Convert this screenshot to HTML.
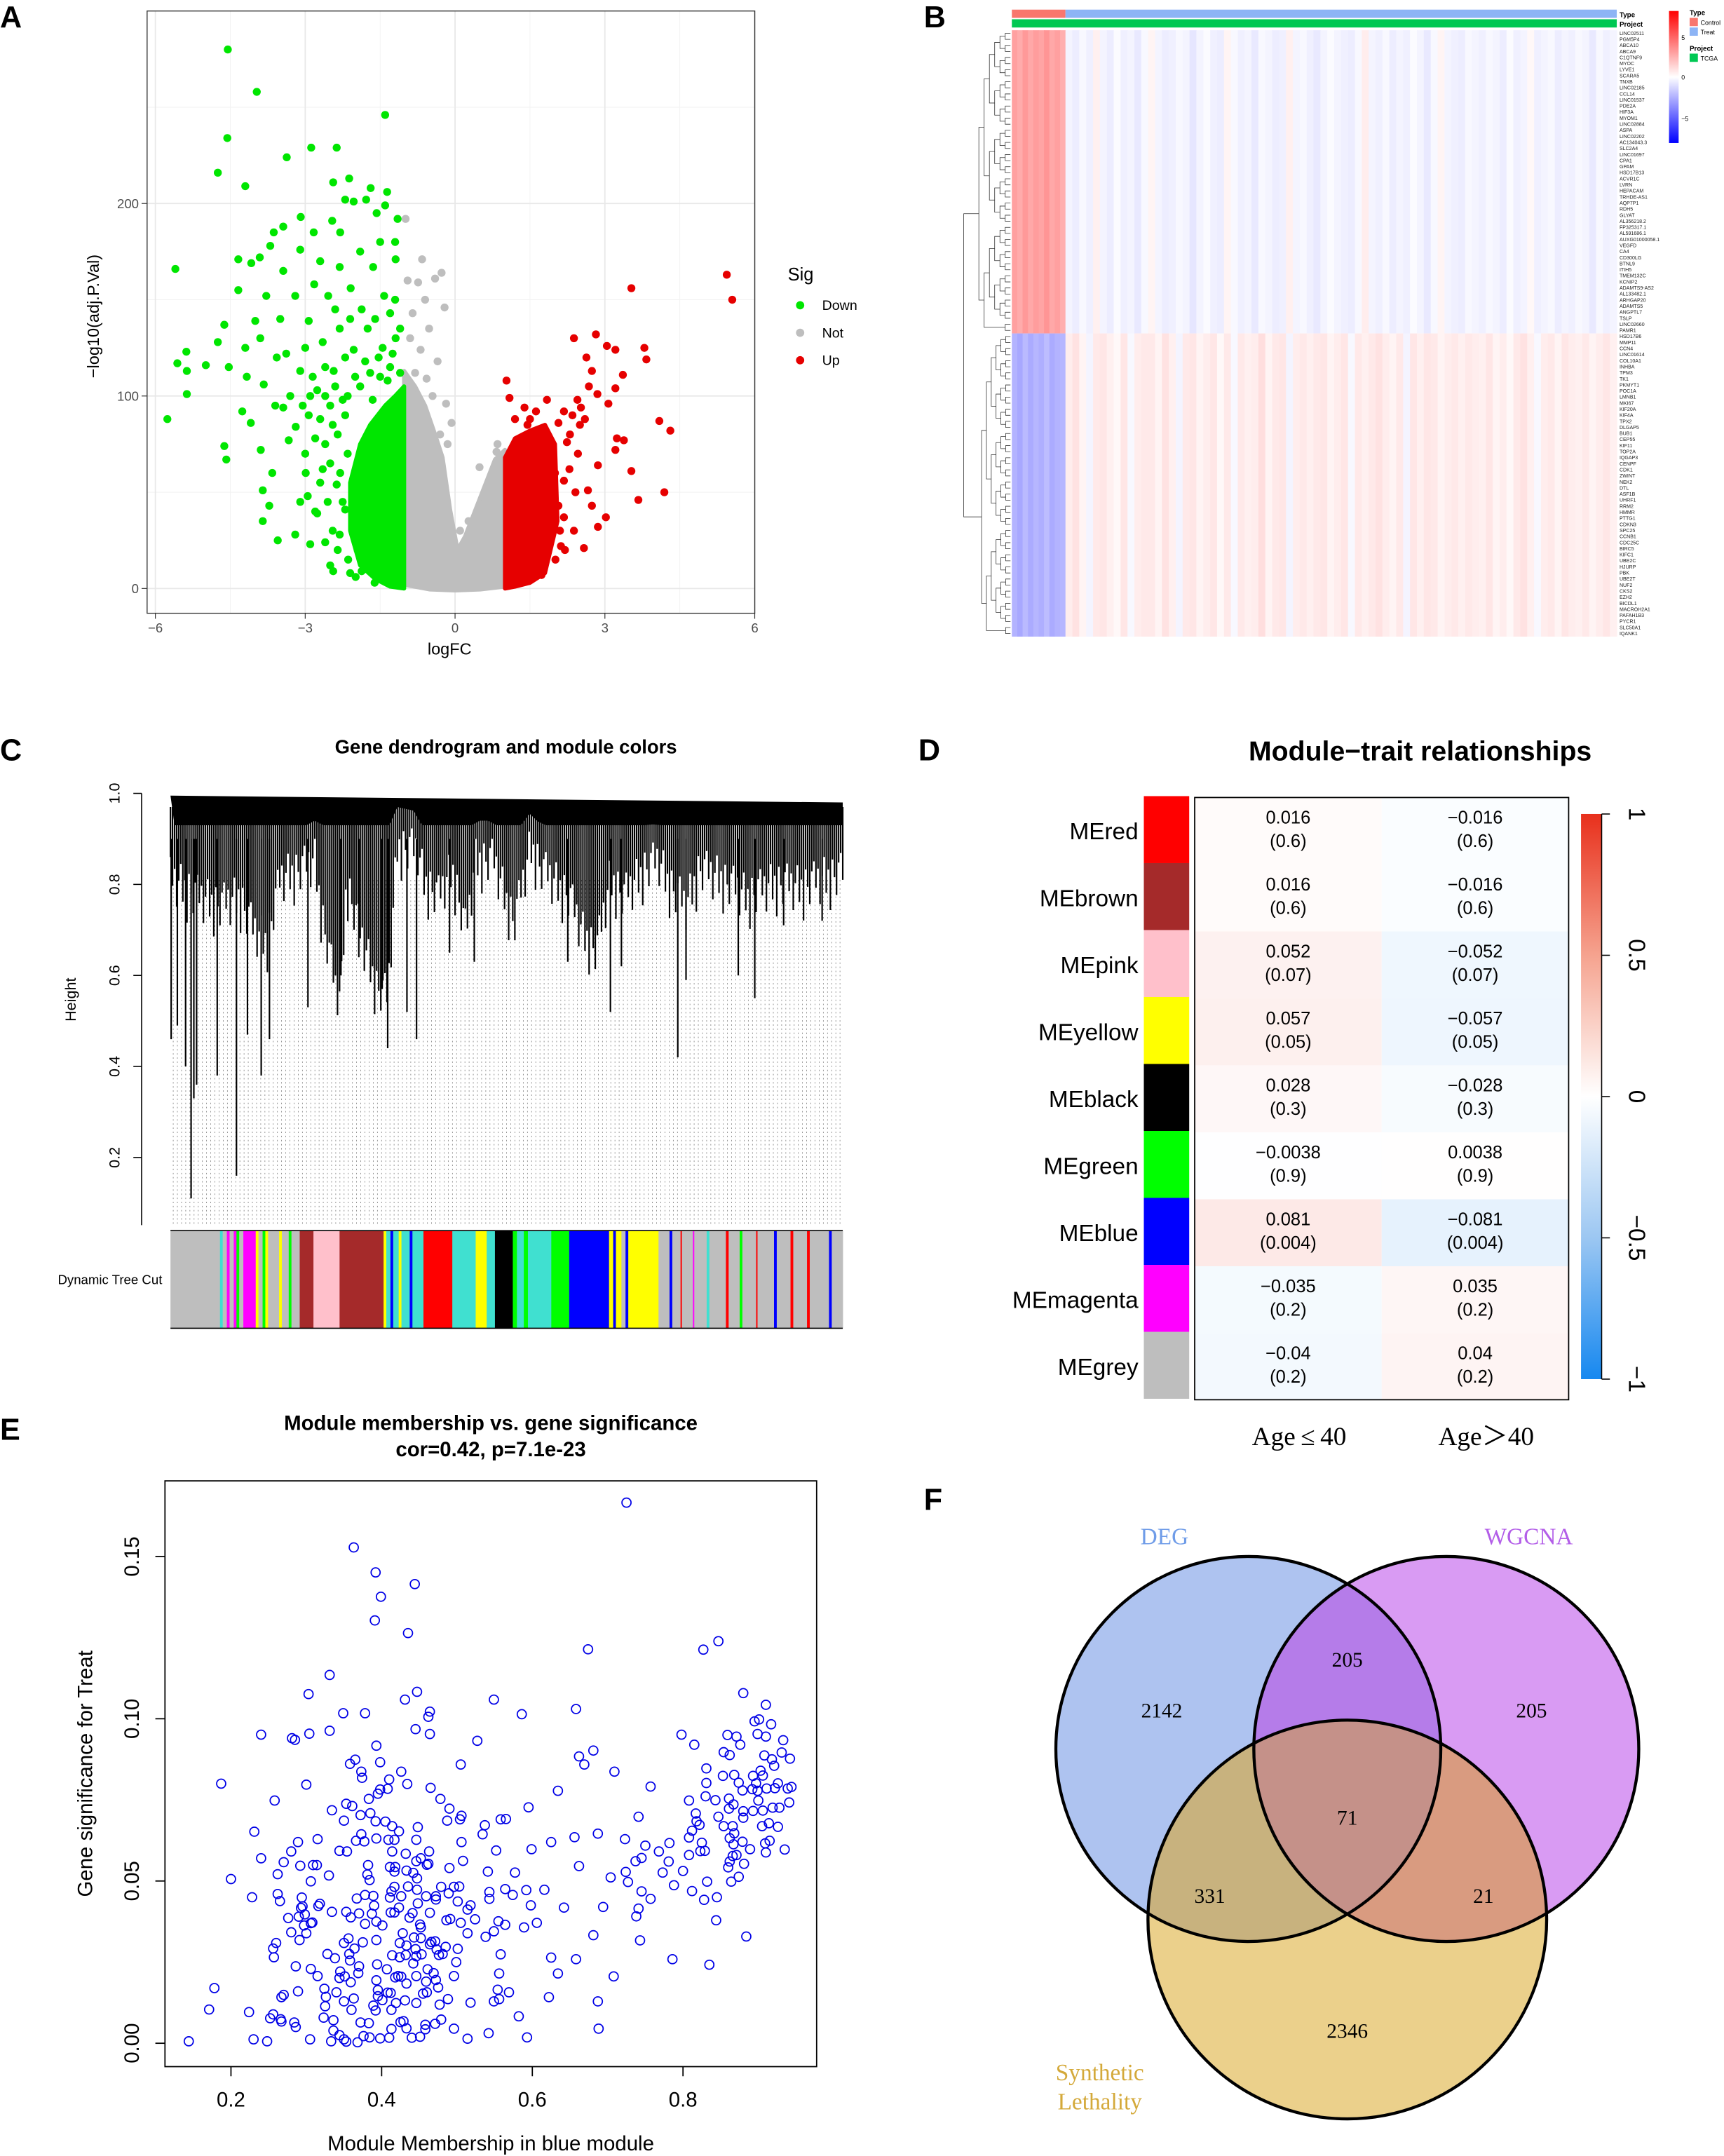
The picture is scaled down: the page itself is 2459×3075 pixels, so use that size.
<!DOCTYPE html>
<html><head><meta charset="utf-8"><title>Figure</title>
<style>
html,body{margin:0;padding:0;background:#fff;}
svg{display:block;}
text{font-family:"Liberation Sans",Arial,sans-serif;}
.serif{font-family:"Liberation Serif","Times New Roman",serif;}
</style></head>
<body>
<svg id="fig" xmlns="http://www.w3.org/2000/svg" width="2459" height="3075" viewBox="0 0 1254 1568" preserveAspectRatio="none">
<defs>
<linearGradient id="gradB" x1="0" y1="0" x2="0" y2="1">
<stop offset="0" stop-color="#ff0000"/><stop offset="0.5" stop-color="#ffffff"/><stop offset="1" stop-color="#0000ff"/>
</linearGradient>
<linearGradient id="gradD" x1="0" y1="0" x2="0" y2="1">
<stop offset="0" stop-color="#e8301c"/><stop offset="0.25" stop-color="#f5a38f"/><stop offset="0.5" stop-color="#ffffff"/><stop offset="0.75" stop-color="#9cc7f2"/><stop offset="1" stop-color="#1688f0"/>
</linearGradient>
<clipPath id="clipA"><circle cx="908" cy="1272" r="140"/></clipPath>
<clipPath id="clipB"><circle cx="1052" cy="1272" r="140"/></clipPath>
</defs>
<rect x="0" y="0" width="1254" height="1568" fill="#fff"/>
<g id="pA"></g>
<g id="pB"></g>
<g id="pC"></g>
<g id="pD"></g>
<g id="pE"></g>
<g id="pF"></g>
</svg>
<script>
// ---------- Panel A data ----------
const downPts=[[-4.55,280],[-3.97,258],[-1.40,246],[-4.56,234],[-2.88,229],[-2.37,229],[-3.37,224],[-4.75,216],[-4.2,209],[-2.12,213],[-2.44,211],[-1.69,208],[-1.36,206],[-2.2,202],[-2.03,201],[-1.78,202],[-1.40,199],[-1.57,195],[-3.09,193],[-1.15,192],[-2.46,191],[-3.44,188],[-3.63,185],[-2.83,185],[-5.6,166],[-4.34,171],[-4.08,169],[-3.91,172],[-3.1,176],[-3.7,178],[-4.34,155],[-4.62,137],[-4.75,128],[-5.38,123],[-5.56,117],[-4.99,116],[-4.53,115],[-5.37,113],[-5.37,101],[-5.76,88],[-4.62,74],[-4.58,67],[-4.26,92],[-4.09,86],[-3.85,51],[-3.85,35],[-3.55,25],[-3.72,43],[-3.2,28],[-2.9,23],[-2.44,9],[-1.99,6],[-1.61,3],[-3.66,60],[-3.33,77],[-3.89,72],[-4.17,110],[-3.83,106],[-3.57,120],[-3.44,94],[-3.19,84],[-2.99,60],[-2.76,39],[-2.6,24],[-4.0,139],[-3.78,152],[-3.44,165],[-3.2,152],[-2.93,139],[-2.82,158],[-2.54,152],[-2.31,167],[-2.09,156],[-1.87,145],[-1.64,167],[-1.42,152],[-1.19,171],[-1.3,143],[-3.38,122],[-3.1,113],[-2.65,128],[-2.31,135],[-2.03,124],[-1.75,135],[-1.53,120],[-1.19,130],[-2.76,103],[-2.43,113],[-2.93,90],[-2.6,75],[-2.37,54],[-2.2,41],[-2.31,28],[-2.14,15],[-1.87,9],[-2.9,100],[-2.7,88],[-2.5,95],[-2.5,65],[-2.55,45],[-2.45,30],[-2.7,55],[-3.0,70],[-3.1,45],[-3.3,100],[-3.6,95],[-3.9,130],[-4.2,125],[-3.5,140],[-3.0,125],[-2.6,115],[-2.2,120],[-2.0,110],[-1.8,118],[-1.5,110],[-1.3,115],[-1.1,112],[-1.2,150],[-1.6,140],[-2.1,140],[-2.4,145],[-2.7,170],[-1.9,175],[-1.5,180],[-2.3,185],[-1.2,180],[-2.35,80],[-2.25,98],[-2.15,70],[-2.05,50],[-2.0,32],[-1.95,20],[-2.3,60],[-2.6,100],[-2.8,78],[-2.2,90],[-2.4,105],[-2.25,45],[-2.35,20],[-2.5,12],[-2.1,8],[-1.9,105],[-1.7,112],[-1.45,125],[-1.25,122],[-1.1,135],[-2.15,100],[-2.45,85],[-2.65,62],[-2.8,40],[-2.95,48],[-3.05,95],[-2.85,110],[-1.65,98],[-1.35,108]];
const downEnvX=[-2.1,-1.9,-1.7,-1.4,-1.2,-1.02,-1.02,-1.3,-1.6,-1.9,-2.1];
const downEnvY=[55,75,85,95,100,105,0,1,5,12,30];
const notPts=[[-0.99,192],[-0.66,171],[-0.27,164],[-0.74,159],[-0.4,161],[-0.21,146],[-0.85,143],[-0.52,135],[-0.69,124],[-0.35,118],[-0.57,109],[-0.18,96],[-0.07,86],[0.49,63],[0.83,71],[0.66,54],[0.27,35],[-0.9,130],[-0.8,112],[-0.45,100],[-0.3,80],[-0.6,150],[-0.95,160],[-0.15,75],[0.1,30],[0.85,75]];
const notEnvX=[-1.02,-0.8,-0.6,-0.4,-0.25,-0.1,0.05,0.2,0.5,0.8,1.0,1.0,0.5,0,-0.5,-1.02];
const notEnvY=[113,105,95,80,68,41,20,27,47,67,72,1,-0.5,-1,-0.5,2];
const upPts=[[5.44,163],[5.55,150],[3.53,156],[3.79,125],[3.83,119],[2.82,132],[2.38,130],[3.04,126],[3.21,124],[3.36,111],[1.03,108],[1.09,99],[3.21,104],[3.07,96],[4.09,87],[4.31,82],[3.24,78],[3.38,77],[3.21,72],[3.53,61],[3.67,46],[4.19,50],[3.02,37],[2.86,32],[2.58,21],[2.66,51],[2.63,120],[2.74,113],[2.68,105],[2.85,101],[2.52,94],[2.35,90],[2.18,92],[2.07,86],[1.84,98],[1.62,92],[1.39,94],[2.24,76],[2.46,70],[2.29,62],[2.18,56],[2.41,50],[2.07,43],[2.18,37],[2.38,30],[2.12,22],[2.01,15],[2.74,43],[2.86,64],[1.73,7],[1.95,70],[2.0,60],[2.3,80],[2.5,85],[1.5,88],[2.1,30],[2.2,20],[1.2,88],[1.45,85],[2.6,88],[2.45,98]];
const upEnvX=[1.0,1.2,1.5,1.8,2.0,2.05,1.8,1.5,1.2,1.0];
const upEnvY=[68,78,82,85,75,35,8,3,1,0];
const volcXTicks=[-6,-3,0,3,6];
const volcYTicks=[0,100,200];

// ---------- Panel B data ----------
const geneTop=["LINC02511","PGM5P4","ABCA10","ABCA9","C1QTNF9","MYOC","LYVE1","SCARA5","TNXB","LINC02185","CCL14","LINC01537","PDE2A","HIF3A","MYOM1","LINC02884","ASPA","LINC02202","AC134043.3","SLC2A4","LINC01697","CPA1","GPAM","HSD17B13","ACVR1C","LVRN","HEPACAM","TRHDE-AS1","AQP7P1","RDH5","GLYAT","AL356218.2","FP325317.1","AL591686.1","AUXG01000058.1","VEGFD","CA4","CD300LG","BTNL9","ITIH5","TMEM132C","KCNIP2","ADAMTS9-AS2","AL133482.1","ARHGAP20","ADAMTS5","ANGPTL7","TSLP","LINC02660","PAMR1"];
const geneBottom=["HSD17B6","MMP11","CCN4","LINC01614","COL10A1","INHBA","TPM3","TK1","PKMYT1","POC1A","LMNB1","MKI67","KIF20A","KIF4A","TPX2","DLGAP5","BUB1","CEP55","KIF11","TOP2A","IQGAP3","CENPF","CDK1","ZWINT","NEK2","DTL","ASF1B","UHRF1","RRM2","HMMR","PTTG1","CDKN3","SPC25","CCNB1","CDC25C","BIRC5","KIFC1","UBE2C","HJURP","PBK","UBE2T","NUF2","CKS2","EZH2","BICDL1","MACROH2A1","PAFAH1B3","PYCR1","SLC50A1","IQANK1"];
const ctrlTopCols=[2.6,2.3,2.8,2.4,2.7,2.5,2.9,2.4,2.6,2.2];
const ctrlBotCols=[-2.1,-2.4,-1.9,-2.3,-2.0,-2.2,-1.8,-2.3,-2.1,-2.0];
const treatTopCols=[-0.3,-0.5,-0.2,-0.4,0.4,-0.3,-0.5,-0.1,-0.4,-0.3,-0.6,-0.2,0.3,-0.3,-0.5,-0.4,-0.2,-0.3,-0.7,-0.3,-0.1,-0.4,-0.5,0.3,-0.2,-0.4,-0.3,-0.6,-0.2,-0.3,-0.5,-0.4,0.4,-0.3,-0.2,-0.4,-0.6,-0.3,-0.1,-0.3,-0.4,-0.5,-0.2,0.5,-0.3,-0.4,-0.2,-0.5,-0.3,-0.4,-0.1,-0.3,-0.6,-0.2,0.3,-0.3,-0.4,-0.5,-0.2,-0.3,-0.4,-0.2,-0.3,-0.5,-0.1,-0.4,-0.3,0.2,-0.4,-0.3,-0.2,-0.5,-0.3,-0.4,-0.2,-0.3,-0.6,-0.2,-0.4,-0.3];
const treatBotCols=[0.5,0.8,0.3,-0.3,0.6,0.7,0.4,0.2,0.7,-0.2,0.5,0.6,0.6,0.3,0.8,0.4,-0.3,0.6,0.7,0.3,0.5,0.7,0.2,0.6,-0.2,0.6,0.4,0.5,0.9,0.3,0.6,0.7,-0.3,0.5,0.6,0.4,0.6,0.7,0.3,0.5,0.7,-0.2,0.6,0.4,0.6,0.8,0.5,0.3,0.6,-0.3,0.7,0.4,0.7,0.6,0.3,0.5,0.6,0.4,0.6,0.5,0.4,0.7,0.3,0.5,0.2,0.6,0.8,0.4,-0.2,0.5,0.6,0.3,0.7,0.5,0.4,0.6,0.3,0.5,0.7,0.4];

// ---------- Panel C data ----------
const moduleSegColors=["grey","turquoise","grey","magenta","grey","magenta","green","grey","magenta","yellow","grey","green","yellow","grey","yellow","grey","green","grey","brown","pink","brown","yellow","turquoise","blue","turquoise","yellow","turquoise","blue","turquoise","red","turquoise","yellow","turquoise","black","green","turquoise","green","turquoise","green","blue","yellow","blue","yellow","grey","blue","yellow","grey","blue","grey","red","grey","magenta","grey","turquoise","grey","red","grey","green","grey","red","grey","blue","grey","red","grey","red","grey","blue","grey"];
const moduleSegSizes=[36,2,3,2,3,2,2,3,9,2,3,2,2,8,2,5,2,6,10,19,32,2,3,2,4,2,6,2,8,21,17,8,6,13,3,5,3,17,13,29,3,2,4,3,2,22,8,2,6,1,8,1,9,2,12,2,8,2,10,1,12,2,10,2,10,2,14,2,8];
const dendroProfPos=[0,10,20,36,50,60,70,80,95,105,110,120,124,128,140,150,158,165,180,185,195,205,215,222,235,250,262,270,290,300,310,320,330,345,355,362,375,385,400,420,440,460,475,489];
const dendroProfH=[0.86,0.84,0.82,0.8,0.82,0.75,0.72,0.86,0.88,0.9,0.78,0.62,0.6,0.85,0.72,0.62,0.6,0.93,0.92,0.85,0.82,0.88,0.74,0.9,0.9,0.76,0.93,0.88,0.82,0.74,0.7,0.86,0.82,0.88,0.9,0.85,0.8,0.88,0.86,0.82,0.85,0.84,0.86,0.87];
const leafJitter=[0,0.06,0.02,0.1,0.04,0,0.08,0.03,0.12,0.01,0.05,0.09,0.02];
const spikePos=[0.5,5,11,15,17,19,34,48,56,66,72,100,124,137,154,158,172,179,203,221,289,320,328,369,375,413,425,446,474];
const spikeH=[0.46,0.49,0.4,0.11,0.33,0.36,0.38,0.16,0.47,0.38,0.46,0.53,0.6,0.64,0.57,0.44,0.52,0.46,0.65,0.63,0.63,0.52,0.62,0.42,0.59,0.6,0.55,0.71,0.72];
const cTicks=[0.2,0.4,0.6,0.8,1.0];

// ---------- Panel D data ----------
const moduleNames=["MEred","MEbrown","MEpink","MEyellow","MEblack","MEgreen","MEblue","MEmagenta","MEgrey"];
const moduleColors=["#ff0000","#a52a2a","#ffc0cb","#ffff00","#000000","#00ff00","#0000ff","#ff00ff","#bebebe"];
const corYoung=[0.016,0.016,0.052,0.057,0.028,-0.0038,0.081,-0.035,-0.04];
const corOld=[-0.016,-0.016,-0.052,-0.057,-0.028,0.0038,-0.081,0.035,0.04];
const pvals=["0.6","0.6","0.07","0.05","0.3","0.9","0.004","0.2","0.2"];
const traitLabels=["Age\u2009\u2264\u200940","Age\uFF1E40"];
const dTicks=[1,0.5,0,-0.5,-1];

// ---------- Panel E data ----------
const scatterPts=[[0.725,0.1666],[0.363,0.1528],[0.392,0.1451],[0.444,0.1415],[0.399,0.1376],[0.391,0.1303],[0.435,0.1264],[0.674,0.1214],[0.827,0.1213],[0.847,0.1239],[0.331,0.1135],[0.303,0.1076],[0.447,0.1083],[0.431,0.1059],[0.549,0.1059],[0.349,0.1017],[0.378,0.1017],[0.464,0.1022],[0.462,0.1006],[0.586,0.1014],[0.658,0.1030],[0.880,0.1079],[0.910,0.1043],[0.240,0.0951],[0.281,0.0940],[0.285,0.0935],[0.304,0.0954],[0.331,0.0963],[0.445,0.0968],[0.464,0.0953],[0.527,0.0932],[0.393,0.0917],[0.798,0.0951],[0.815,0.0920],[0.895,0.0992],[0.901,0.0998],[0.917,0.0983],[0.899,0.0953],[0.910,0.0945],[0.859,0.0950],[0.871,0.0945],[0.876,0.0920],[0.933,0.0934],[0.854,0.0897],[0.862,0.0888],[0.931,0.0896],[0.942,0.0877],[0.908,0.0887],[0.918,0.0875],[0.921,0.0855],[0.681,0.0902],[0.662,0.0884],[0.669,0.0859],[0.709,0.0837],[0.831,0.0847],[0.831,0.0802],[0.853,0.0824],[0.868,0.0827],[0.874,0.0803],[0.893,0.0824],[0.903,0.0840],[0.906,0.0825],[0.897,0.0801],[0.911,0.0785],[0.926,0.0801],[0.939,0.0785],[0.944,0.0790],[0.879,0.0779],[0.892,0.0783],[0.899,0.0778],[0.900,0.0748],[0.922,0.0786],[0.941,0.0742],[0.928,0.0726],[0.919,0.0726],[0.906,0.0717],[0.893,0.0716],[0.880,0.0715],[0.880,0.0695],[0.861,0.0754],[0.861,0.0723],[0.867,0.0736],[0.843,0.0749],[0.830,0.0761],[0.808,0.0748],[0.847,0.0698],[0.817,0.0708],[0.818,0.0684],[0.822,0.0673],[0.812,0.0655],[0.808,0.0634],[0.854,0.0669],[0.866,0.0669],[0.868,0.0647],[0.862,0.0632],[0.867,0.0613],[0.879,0.0621],[0.905,0.0669],[0.914,0.0678],[0.926,0.0667],[0.915,0.0624],[0.909,0.0616],[0.910,0.0588],[0.935,0.0597],[0.889,0.0598],[0.871,0.0580],[0.866,0.0577],[0.862,0.0560],[0.860,0.0542],[0.881,0.0553],[0.874,0.0513],[0.864,0.0498],[0.825,0.0618],[0.823,0.0592],[0.829,0.0593],[0.808,0.0580],[0.800,0.0531],[0.782,0.0617],[0.781,0.0560],[0.768,0.0591],[0.773,0.0526],[0.788,0.0487],[0.812,0.0469],[0.832,0.0498],[0.828,0.0442],[0.845,0.0450],[0.844,0.0379],[0.884,0.0329],[0.835,0.0242],[0.786,0.0259],[0.741,0.0698],[0.757,0.0791],[0.750,0.0609],[0.723,0.0629],[0.737,0.0561],[0.745,0.0571],[0.724,0.0528],[0.727,0.0497],[0.745,0.0468],[0.704,0.0511],[0.687,0.0646],[0.656,0.0635],[0.625,0.0620],[0.599,0.0598],[0.634,0.0778],[0.595,0.0727],[0.662,0.0546],[0.694,0.0420],[0.741,0.0415],[0.738,0.0391],[0.743,0.0317],[0.757,0.0445],[0.708,0.0206],[0.681,0.0333],[0.658,0.0259],[0.687,0.0129],[0.688,0.0045],[0.625,0.0264],[0.634,0.0215],[0.622,0.0142],[0.642,0.0418],[0.616,0.0473],[0.606,0.0371],[0.598,0.0425],[0.592,0.0472],[0.589,0.0357],[0.582,0.0083],[0.593,0.0018],[0.577,0.0526],[0.574,0.0457],[0.564,0.0475],[0.543,0.0466],[0.543,0.0445],[0.541,0.0529],[0.552,0.0594],[0.558,0.0690],[0.565,0.0691],[0.534,0.0644],[0.537,0.0672],[0.506,0.0620],[0.508,0.0562],[0.505,0.0859],[0.504,0.0690],[0.506,0.0701],[0.490,0.0723],[0.487,0.0686],[0.478,0.0753],[0.465,0.0787],[0.490,0.0540],[0.479,0.0482],[0.496,0.0482],[0.503,0.0483],[0.489,0.0462],[0.501,0.0437],[0.518,0.0425],[0.514,0.0412],[0.524,0.0382],[0.505,0.0371],[0.514,0.0339],[0.491,0.0383],[0.486,0.0379],[0.538,0.0328],[0.549,0.0345],[0.555,0.0376],[0.564,0.0365],[0.558,0.0274],[0.556,0.0215],[0.554,0.0165],[0.569,0.0157],[0.556,0.0136],[0.549,0.0129],[0.542,0.0031],[0.518,0.0125],[0.514,0.0014],[0.496,0.0045],[0.488,0.0136],[0.477,0.0119],[0.479,0.0073],[0.471,0.0060],[0.458,0.0057],[0.458,0.0043],[0.451,0.0020],[0.440,0.0017],[0.433,0.0046],[0.429,0.0068],[0.425,0.0065],[0.413,0.0044],[0.410,0.0017],[0.398,0.0015],[0.384,0.0018],[0.376,0.0022],[0.368,0.0003],[0.353,0.0005],[0.350,0.0012],[0.344,0.0025],[0.333,0.0006],[0.336,0.0039],[0.336,0.0071],[0.323,0.0079],[0.305,0.0012],[0.248,0.0006],[0.230,0.0012],[0.144,0.0006],[0.171,0.0104],[0.178,0.0170],[0.224,0.0096],[0.252,0.0077],[0.256,0.0089],[0.267,0.0067],[0.266,0.0074],[0.284,0.0064],[0.286,0.0050],[0.267,0.0142],[0.270,0.0149],[0.289,0.0160],[0.257,0.0265],[0.256,0.0292],[0.260,0.0309],[0.286,0.0237],[0.280,0.0342],[0.291,0.0318],[0.300,0.0339],[0.297,0.0363],[0.306,0.0370],[0.308,0.0372],[0.276,0.0386],[0.290,0.0390],[0.293,0.0417],[0.295,0.0422],[0.294,0.0449],[0.298,0.0397],[0.316,0.0423],[0.318,0.0430],[0.306,0.0229],[0.315,0.0207],[0.324,0.0168],[0.326,0.0143],[0.325,0.0114],[0.340,0.0157],[0.328,0.0275],[0.338,0.0262],[0.334,0.0405],[0.330,0.0517],[0.306,0.0499],[0.292,0.0547],[0.309,0.0549],[0.314,0.0549],[0.262,0.0521],[0.270,0.0558],[0.262,0.0460],[0.265,0.0438],[0.228,0.0450],[0.200,0.0506],[0.240,0.0570],[0.231,0.0652],[0.280,0.0591],[0.289,0.0620],[0.315,0.0629],[0.258,0.0748],[0.187,0.0800],[0.300,0.0797],[0.334,0.0718],[0.350,0.0686],[0.353,0.0738],[0.361,0.0731],[0.372,0.0703],[0.385,0.0709],[0.383,0.0753],[0.392,0.0684],[0.405,0.0683],[0.414,0.0669],[0.423,0.0653],[0.358,0.0861],[0.365,0.0874],[0.373,0.0837],[0.374,0.0818],[0.395,0.0769],[0.398,0.0782],[0.408,0.0784],[0.410,0.0813],[0.398,0.0866],[0.426,0.0837],[0.434,0.0799],[0.344,0.0593],[0.354,0.0591],[0.373,0.0644],[0.366,0.0624],[0.377,0.0622],[0.393,0.0631],[0.409,0.0627],[0.417,0.0627],[0.414,0.0591],[0.432,0.0584],[0.446,0.0627],[0.448,0.0666],[0.463,0.0591],[0.446,0.0561],[0.452,0.0570],[0.462,0.0553],[0.460,0.0550],[0.382,0.0549],[0.381,0.0520],[0.384,0.0503],[0.411,0.0543],[0.418,0.0543],[0.417,0.0529],[0.433,0.0532],[0.442,0.0525],[0.447,0.0508],[0.435,0.0483],[0.417,0.0482],[0.413,0.0468],[0.411,0.0449],[0.426,0.0453],[0.447,0.0473],[0.459,0.0453],[0.472,0.0453],[0.472,0.0443],[0.378,0.0457],[0.367,0.0446],[0.389,0.0454],[0.390,0.0424],[0.370,0.0400],[0.359,0.0388],[0.353,0.0405],[0.387,0.0399],[0.378,0.0368],[0.393,0.0375],[0.401,0.0363],[0.412,0.0403],[0.417,0.0403],[0.423,0.0418],[0.448,0.0431],[0.451,0.0366],[0.452,0.0357],[0.437,0.0387],[0.464,0.0402],[0.441,0.0401],[0.428,0.0339],[0.424,0.0309],[0.414,0.0271],[0.432,0.0272],[0.424,0.0265],[0.445,0.0290],[0.446,0.0268],[0.453,0.0274],[0.442,0.0246],[0.433,0.0301],[0.443,0.0326],[0.452,0.0324],[0.466,0.0312],[0.471,0.0314],[0.464,0.0305],[0.473,0.0289],[0.476,0.0272],[0.485,0.0297],[0.501,0.0291],[0.499,0.0250],[0.481,0.0275],[0.393,0.0318],[0.375,0.0311],[0.364,0.0292],[0.356,0.0323],[0.350,0.0309],[0.357,0.0275],[0.358,0.0255],[0.370,0.0237],[0.369,0.0216],[0.345,0.0221],[0.351,0.0206],[0.344,0.0201],[0.359,0.0188],[0.394,0.0243],[0.393,0.0194],[0.407,0.0228],[0.418,0.0203],[0.422,0.0207],[0.426,0.0205],[0.433,0.0184],[0.446,0.0207],[0.461,0.0228],[0.469,0.0216],[0.459,0.0190],[0.472,0.0195],[0.475,0.0172],[0.455,0.0153],[0.460,0.0157],[0.446,0.0124],[0.431,0.0132],[0.419,0.0124],[0.412,0.0155],[0.413,0.0103],[0.395,0.0164],[0.395,0.0145],[0.401,0.0133],[0.392,0.0101],[0.389,0.0116],[0.363,0.0138],[0.350,0.0129],[0.360,0.0103],[0.372,0.0064],[0.383,0.0062],[0.408,0.0156],[0.496,0.0207]];
const eXTicks=[0.2,0.4,0.6,0.8];
const eYTicks=["0.00","0.05","0.10","0.15"];

// ---------- Panel F data ----------
const vennLabels=["2142","205","205","71","331","21","2346"];

// ---------- helpers ----------
const NS="http://www.w3.org/2000/svg";
function mk(tag,attrs,parent){const e=document.createElementNS(NS,tag);for(const k in attrs)e.setAttribute(k,attrs[k]);parent.appendChild(e);return e;}
function tx(str,attrs,parent){const t=mk("text",attrs,parent);t.textContent=str;return t;}
const pA=document.getElementById("pA"),pB=document.getElementById("pB"),pC=document.getElementById("pC"),pD=document.getElementById("pD"),pE=document.getElementById("pE"),pF=document.getElementById("pF");
let e;

// ================= PANEL A =================
const xA=v=>331+v*36.33, yA=v=>428-v*1.4;
e=tx("A",{x:0,y:20,"font-size":22,"font-weight":"bold"},pA);


e=mk("rect",{x:107,y:8,width:442,height:438,fill:"#fff"},pA);


[-4.5,-1.5,1.5,4.5].forEach(v=>{e=mk("line",{x1:xA(v),x2:xA(v),y1:8,y2:446,stroke:"#f2f2f2","stroke-width":0.5},pA);

});
[50,150,250].forEach(v=>{e=mk("line",{x1:107,x2:549,y1:yA(v),y2:yA(v),stroke:"#f2f2f2","stroke-width":0.5},pA);

});
volcXTicks.forEach(v=>{e=mk("line",{x1:xA(v),x2:xA(v),y1:8,y2:446,stroke:"#e8e8e8","stroke-width":0.9},pA);


e=mk("line",{x1:xA(v),x2:xA(v),y1:446,y2:450,stroke:"#333","stroke-width":0.6},pA);


e=tx(v<0?"\u2212"+Math.abs(v):String(v),{x:xA(v),y:460,"font-size":9.5,fill:"#4d4d4d","text-anchor":"middle"},pA);

});
volcYTicks.forEach(v=>{e=mk("line",{x1:107,x2:549,y1:yA(v),y2:yA(v),stroke:"#e8e8e8","stroke-width":0.9},pA);


e=mk("line",{x1:103,x2:107,y1:yA(v),y2:yA(v),stroke:"#333","stroke-width":0.6},pA);


e=tx(String(v),{x:101,y:yA(v)+3.5,"font-size":9.5,fill:"#4d4d4d","text-anchor":"end"},pA);

});
function envelope(xs,ys,col,name){const pts=xs.map((x,i)=>xA(x)+","+yA(ys[i])).join(" ");
e=mk("polygon",{points:pts,fill:col,stroke:col,"stroke-width":3,"stroke-linejoin":"round"},pA);

}
function pts(arr,col,name){arr.forEach(p=>{e=mk("circle",{cx:xA(p[0]),cy:yA(p[1]),r:2.9,fill:col},pA);

});}
envelope(notEnvX,notEnvY,"#bebebe","not-sig-dense-region");pts(notPts,"#bebebe","not-sig-point");
envelope(downEnvX,downEnvY,"#00e600","down-dense-region");pts(downPts,"#00e600","down-point");
envelope(upEnvX,upEnvY,"#e60000","up-dense-region");pts(upPts,"#e60000","up-point");
e=mk("rect",{x:107,y:8,width:442,height:438,fill:"none",stroke:"#333","stroke-width":0.7},pA);


e=tx("logFC",{x:327,y:476,"font-size":12,"text-anchor":"middle"},pA);


e=tx("\u2212log10(adj.P.Val)",{x:0,y:0,"font-size":12,"text-anchor":"middle",transform:"translate(72,230) rotate(-90)"},pA);


e=tx("Sig",{x:573,y:204,"font-size":13},pA);


[["Down","#00e600"],["Not","#bebebe"],["Up","#e60000"]].forEach((d,i)=>{const y=222+i*20;
e=mk("circle",{cx:582,cy:y,r:3,fill:d[1]},pA);


e=tx(d[0],{x:598,y:y+3.5,"font-size":10},pA);

});

// ================= PANEL B =================
e=tx("B",{x:672,y:20,"font-size":22,"font-weight":"bold"},pB);


function heatCol(v){const t=Math.min(1,Math.abs(v)/7);const c=Math.round(255-255*t);return v>=0?`rgb(255,${c},${c})`:`rgb(${c},${c},255)`;}
const hx0=736,hx1=1176,hy0=22,rowH=4.41,splitY=hy0+geneTop.length*rowH,hy1=hy0+(geneTop.length+geneBottom.length)*rowH;
const ctrlW=(775-736)/ctrlTopCols.length;
ctrlTopCols.forEach((v,i)=>{e=mk("rect",{x:hx0+i*ctrlW,y:hy0,width:ctrlW+0.3,height:splitY-hy0,fill:heatCol(v)},pB);

});
ctrlBotCols.forEach((v,i)=>{e=mk("rect",{x:hx0+i*ctrlW,y:splitY,width:ctrlW+0.3,height:hy1-splitY,fill:heatCol(v)},pB);

});
const trW=(hx1-775)/treatTopCols.length;
treatTopCols.forEach((v,i)=>{e=mk("rect",{x:775+i*trW,y:hy0,width:trW+0.3,height:splitY-hy0,fill:heatCol(v)},pB);

});
const trW2=(hx1-775)/treatBotCols.length;
treatBotCols.forEach((v,i)=>{e=mk("rect",{x:775+i*trW2,y:splitY,width:trW2+0.3,height:hy1-splitY,fill:heatCol(v)},pB);

});
e=mk("rect",{x:736,y:7,width:39,height:6,fill:"#f8766d"},pB);


e=mk("rect",{x:775,y:7,width:401,height:6,fill:"#8db4f5"},pB);


e=mk("rect",{x:736,y:14,width:440,height:6,fill:"#00c853"},pB);


e=tx("Type",{x:1178,y:12.5,"font-size":5,"font-weight":"bold"},pB);


e=tx("Project",{x:1178,y:19.5,"font-size":5,"font-weight":"bold"},pB);


geneTop.concat(geneBottom).forEach((g,i)=>{e=tx(g,{x:1178,y:hy0+i*rowH+3.4,"font-size":3.6,fill:"#222"},pB);

});
function dendro(n0,n,xLeaf,xRoot){let nodes=[];for(let i=0;i<n;i++)nodes.push({y:hy0+(n0+i+0.5)*rowH,x:xLeaf});let x=xLeaf;const step=(xLeaf-xRoot)/6;
while(nodes.length>1){x-=step;const next=[];for(let i=0;i<nodes.length;i+=2){if(i+1<nodes.length){const a=nodes[i],b=nodes[i+1];
e=mk("path",{d:`M${a.x},${a.y}H${x}V${b.y}H${b.x}`,fill:"none",stroke:"#333","stroke-width":0.4},pB);


next.push({x:x,y:(a.y+b.y)/2});}else next.push(nodes[i]);}nodes=next;}return nodes[0];}
const rTop=dendro(0,geneTop.length,735,712),rBot=dendro(geneTop.length,geneBottom.length,735,714);
e=mk("path",{d:`M${rTop.x},${rTop.y}H701V${rBot.y}H${rBot.x}`,fill:"none",stroke:"#333","stroke-width":0.4},pB);


e=mk("rect",{x:1214,y:8,width:7,height:96,fill:"url(#gradB)"},pB);


[["5",29],["0",58],["\u22125",88]].forEach(d=>{e=tx(d[0],{x:1223,y:d[1],"font-size":4.5},pB);

});
e=tx("Type",{x:1229,y:11,"font-size":5,"font-weight":"bold"},pB);


e=mk("rect",{x:1229,y:13,width:6,height:6,fill:"#f8766d"},pB);


e=tx("Control",{x:1237,y:18,"font-size":4.5},pB);


e=mk("rect",{x:1229,y:20,width:6,height:6,fill:"#8db4f5"},pB);


e=tx("Treat",{x:1237,y:25,"font-size":4.5},pB);


e=tx("Project",{x:1229,y:37,"font-size":5,"font-weight":"bold"},pB);


e=mk("rect",{x:1229,y:39,width:6,height:6,fill:"#00c853"},pB);


e=tx("TCGA",{x:1237,y:44,"font-size":4.5},pB);



// ================= PANEL C =================
const cX0=124,cW=489,yC=h=>577+(1-h)*331;
e=tx("C",{x:0,y:553,"font-size":22,"font-weight":"bold"},pC);


e=tx("Gene dendrogram and module colors",{x:368,y:548,"font-size":14,"font-weight":"bold","text-anchor":"middle"},pC);


for(let i=0;i<=160;i++){const xp=cX0+2+i*(cW-4)/160;
e=mk("line",{x1:xp,x2:xp,y1:640,y2:891,stroke:"#777","stroke-width":0.4,"stroke-dasharray":"1 2"},pC);

}
function profH(p){for(let i=1;i<dendroProfPos.length;i++){if(p<=dendroProfPos[i]){const a=dendroProfPos[i-1],b=dendroProfPos[i],t=(p-a)/(b-a||1);return dendroProfH[i-1]+t*(dendroProfH[i]-dendroProfH[i-1]);}}return dendroProfH[dendroProfH.length-1];}
let topBand=`${cX0},${yC(0.995)} ${cX0+cW},${yC(0.98)} ${cX0+cW},${yC(0.95)} `;
for(let p=cW;p>=0;p-=6)topBand+=`${cX0+p},${yC(Math.max(profH(p)+0.04,0.93))} `;
e=mk("polygon",{points:topBand,fill:"#000"},pC);


let k=0;
for(let p=0;p<=cW;p+=1.5){const h=profH(p)-leafJitter[k%leafJitter.length];k++;
e=mk("line",{x1:cX0+p,x2:cX0+p,y1:yC(0.97),y2:yC(h),stroke:"#000","stroke-width":1.1},pC);

}
spikePos.forEach((p,i)=>{e=mk("line",{x1:cX0+p,x2:cX0+p,y1:yC(0.9),y2:yC(spikeH[i]),stroke:"#000","stroke-width":1.1},pC);

});
e=mk("line",{x1:103,x2:103,y1:yC(1),y2:891,stroke:"#000","stroke-width":0.8},pC);


cTicks.forEach(v=>{e=mk("line",{x1:97,x2:103,y1:yC(v),y2:yC(v),stroke:"#000","stroke-width":0.8},pC);


e=tx(v.toFixed(1),{x:0,y:0,"font-size":11,"text-anchor":"middle",transform:`translate(87,${yC(v)}) rotate(-90)`},pC);

});
e=tx("Height",{x:0,y:0,"font-size":11,"text-anchor":"middle",transform:"translate(55,727) rotate(-90)"},pC);


const segTotal=moduleSegSizes.reduce((a,b)=>a+b,0);let sx=cX0;
const colMap={grey:"#bebebe",turquoise:"#40e0d0",magenta:"#ff00ff",green:"#00ff00",yellow:"#ffff00",brown:"#a52a2a",pink:"#ffc0cb",blue:"#0000ff",red:"#ff0000",black:"#000000"};
moduleSegColors.forEach((c,i)=>{const w=moduleSegSizes[i]/segTotal*cW;
e=mk("rect",{x:sx,y:895,width:w+0.2,height:71,fill:colMap[c]},pC);

sx+=w;});
e=mk("line",{x1:cX0,x2:cX0+cW,y1:895,y2:895,stroke:"#000","stroke-width":0.8},pC);


e=mk("line",{x1:cX0,x2:cX0+cW,y1:966,y2:966,stroke:"#000","stroke-width":0.8},pC);


e=tx("Dynamic Tree Cut",{x:118,y:934,"font-size":9.5,"text-anchor":"end"},pC);



// ================= PANEL D =================
e=tx("D",{x:668,y:553,"font-size":22,"font-weight":"bold"},pD);


e=tx("Module\u2212trait relationships",{x:1033,y:553,"font-size":20,"font-weight":"bold","text-anchor":"middle"},pD);


const rowD=48.7,dY0=580,colX=[869,1005],colW=136;
function corCol(v){const t=Math.min(1,Math.abs(v)*1.3);if(v>=0){return `rgb(${Math.round(255-t*23)},${Math.round(255-t*207)},${Math.round(255-t*229)})`;}return `rgb(${Math.round(255-t*233)},${Math.round(255-t*119)},${Math.round(255-t*15)})`;}
const fmt=v=>(v<0?"\u2212":"")+String(Math.abs(v));
moduleNames.forEach((m,i)=>{const y=dY0+i*rowD;
e=mk("rect",{x:832,y:y-1,width:33,height:rowD,fill:moduleColors[i]},pD);


e=tx(m,{x:828,y:y+rowD/2+6,"font-size":17,"text-anchor":"end"},pD);


[corYoung[i],corOld[i]].forEach((v,j)=>{
e=mk("rect",{x:colX[j],y:y,width:colW,height:rowD,fill:corCol(v)},pD);


e=tx(fmt(v),{x:colX[j]+68,y:y+19,"font-size":13,"text-anchor":"middle"},pD);


e=tx("("+pvals[i]+")",{x:colX[j]+68,y:y+36,"font-size":13,"text-anchor":"middle"},pD);

});});
e=mk("rect",{x:869,y:580,width:272,height:438,fill:"none",stroke:"#000","stroke-width":0.9},pD);


traitLabels.forEach((t,j)=>{e=tx(t,{x:colX[j]+76,y:1051,"font-size":19,"text-anchor":"middle","class":"serif"},pD);

});
e=mk("rect",{x:1150,y:592,width:15,height:411,fill:"url(#gradD)"},pD);


e=mk("line",{x1:1165,x2:1165,y1:592,y2:1003,stroke:"#000","stroke-width":0.8},pD);


dTicks.forEach(v=>{const y=797.5-v*205.5;
e=mk("line",{x1:1165,x2:1171,y1:y,y2:y,stroke:"#000","stroke-width":0.8},pD);


e=tx(fmt(v),{x:0,y:0,"font-size":17,"text-anchor":"middle",transform:`translate(1185,${y}) rotate(90)`},pD);

});

// ================= PANEL E =================
const xE=v=>168+(v-0.2)*548, yE=v=>1486-v*2360;
e=tx("E",{x:0,y:1047,"font-size":22,"font-weight":"bold"},pE);


e=tx("Module membership vs. gene significance",{x:357,y:1040,"font-size":15,"font-weight":"bold","text-anchor":"middle"},pE);


e=tx("cor=0.42, p=7.1e-23",{x:357,y:1059,"font-size":15,"font-weight":"bold","text-anchor":"middle"},pE);


e=mk("rect",{x:120,y:1077,width:474,height:426,fill:"none",stroke:"#000","stroke-width":0.9},pE);


eXTicks.forEach(v=>{e=mk("line",{x1:xE(v),x2:xE(v),y1:1503,y2:1510,stroke:"#000","stroke-width":0.9},pE);


e=tx(v.toFixed(1),{x:xE(v),y:1532,"font-size":15,"text-anchor":"middle"},pE);

});
eYTicks.forEach(s=>{const v=parseFloat(s);
e=mk("line",{x1:113,x2:120,y1:yE(v),y2:yE(v),stroke:"#000","stroke-width":0.9},pE);


e=tx(s,{x:0,y:0,"font-size":15,"text-anchor":"middle",transform:`translate(101,${yE(v)}) rotate(-90)`},pE);

});
e=tx("Module Membership in blue module",{x:357,y:1564,"font-size":15,"text-anchor":"middle"},pE);


e=tx("Gene significance for  Treat",{x:0,y:0,"font-size":15,"text-anchor":"middle",transform:"translate(67,1290) rotate(-90)"},pE);


scatterPts.forEach(p=>{e=mk("circle",{cx:xE(p[0]),cy:yE(p[1]),r:3.3,fill:"none",stroke:"#0000e6","stroke-width":0.9},pE);

});

// ================= PANEL F =================
e=tx("F",{x:672,y:1098,"font-size":22,"font-weight":"bold"},pF);


const cA={cx:908,cy:1272,r:140},cB={cx:1052,cy:1272,r:140},cS={cx:980,cy:1396,r:145};
e=mk("circle",Object.assign({fill:"#aec3f0"},cA),pF);


e=mk("circle",Object.assign({fill:"#d99bf3"},cB),pF);


e=mk("circle",Object.assign({fill:"#ebd08b"},cS),pF);


e=mk("circle",Object.assign({fill:"#b57ce9","clip-path":"url(#clipA)"},cB),pF);


e=mk("circle",Object.assign({fill:"#c8b27e","clip-path":"url(#clipA)"},cS),pF);


e=mk("circle",Object.assign({fill:"#d99b80","clip-path":"url(#clipB)"},cS),pF);


const gABC=mk("g",{"clip-path":"url(#clipA)"},pF);


e=mk("circle",Object.assign({fill:"#c59189","clip-path":"url(#clipB)"},cS),gABC);


[cA,cB,cS].forEach(c=>{e=mk("circle",Object.assign({fill:"none",stroke:"#000","stroke-width":2.2},c),pF);

});
const vennPos=[[845,1249],[980,1212],[1114,1249],[980,1327],[880,1384],[1079,1384],[980,1482]];
vennLabels.forEach((s,i)=>{e=tx(s,{x:vennPos[i][0],y:vennPos[i][1],"font-size":15,"text-anchor":"middle","class":"serif"},pF);

});
e=tx("DEG",{x:847,y:1123,"font-size":17,fill:"#6f9ce8","text-anchor":"middle","class":"serif"},pF);


e=tx("WGCNA",{x:1112,y:1123,"font-size":17,fill:"#b35ee8","text-anchor":"middle","class":"serif"},pF);


e=tx("Synthetic",{x:800,y:1513,"font-size":17,fill:"#d4a93a","text-anchor":"middle","class":"serif"},pF);


e=tx("Lethality",{x:800,y:1534,"font-size":17,fill:"#d4a93a","text-anchor":"middle","class":"serif"},pF);


</script>
</body></html>
